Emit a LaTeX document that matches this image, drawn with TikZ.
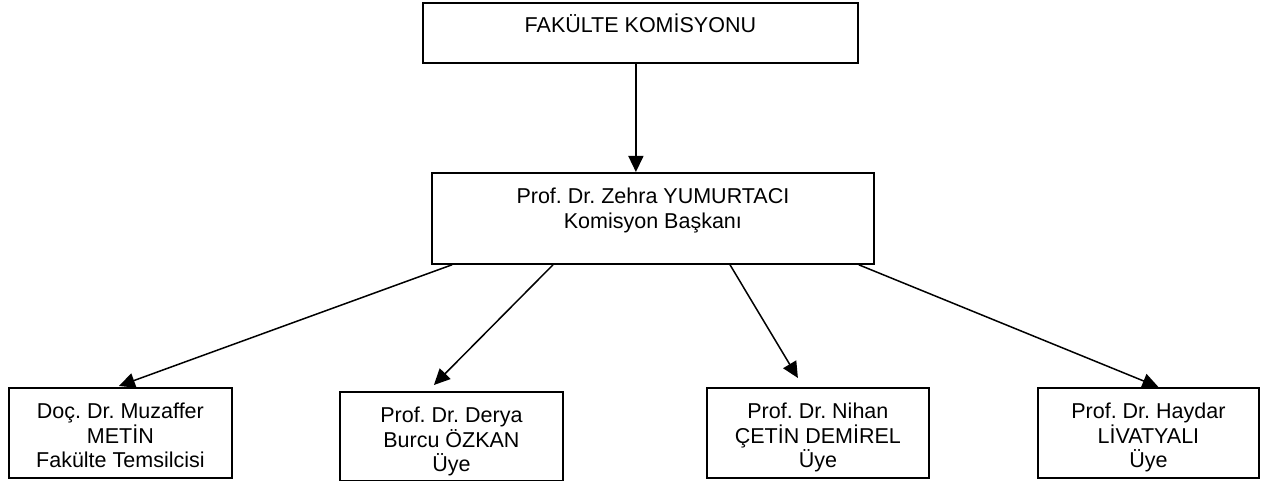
\documentclass[tikz,border=0pt]{standalone}
\usepackage{fontspec}
\setmainfont{Liberation Sans}
\usetikzlibrary{arrows.meta}
\frenchspacing
\newcommand{\boxtext}[3]{\parbox[t][#2pt][t]{#1pt}{\centering\rule{0pt}{31pt}#3}}
\tikzset{
  orgbox/.style={draw, line width=1.8pt, inner sep=0pt, anchor=north west,
    font=\fontsize{21.5}{24.5}\selectfont\frenchspacing},
  link/.style={line width=1.5pt, -{Triangle[length=16pt,width=15pt]}}
}
\begin{document}
\begin{tikzpicture}[x=1pt,y=-1pt]
\useasboundingbox (0,0) rectangle (1261,481);
\node[orgbox] (top) at (422,2) {\parbox[t][60pt][t]{435pt}{\centering\rule{0pt}{30pt}FAKÜLTE KOMİSYONU}};
\node[orgbox] (mid) at (431,172) {\boxtext{442}{91}{Prof. Dr. Zehra YUMURTACI\\Komisyon Başkanı}};
\node[orgbox] (b1) at (8,387) {\boxtext{223}{90}{Doç. Dr. Muzaffer\\METİN\\Fakülte Temsilcisi}};
\node[orgbox] (b2) at (339,391) {\boxtext{223}{89}{Prof. Dr. Derya\\Burcu ÖZKAN\\Üye}};
\node[orgbox] (b3) at (706,387) {\boxtext{222}{90}{Prof. Dr. Nihan\\ÇETİN DEMİREL\\Üye}};
\node[orgbox] (b4) at (1037,387) {\boxtext{221}{90}{Prof. Dr. Haydar\\LİVATYALI\\Üye}};
\draw[link] ([xshift=-4.5pt]top.south) -- ([xshift=-17pt]mid.north);
\draw[link] ([xshift=21pt]mid.south west) -- ([xshift=-1.5pt,yshift=1pt]b1.north);
\draw[link] ([xshift=122pt]mid.south west) -- ([xshift=-17.5pt,yshift=6pt]b2.north);
\draw[link] ([xshift=299pt]mid.south west) -- ([xshift=-20pt,yshift=9pt]b3.north);
\draw[link] ([xshift=-16pt]mid.south east) -- ([xshift=10pt]b4.north);
\end{tikzpicture}
\end{document}
